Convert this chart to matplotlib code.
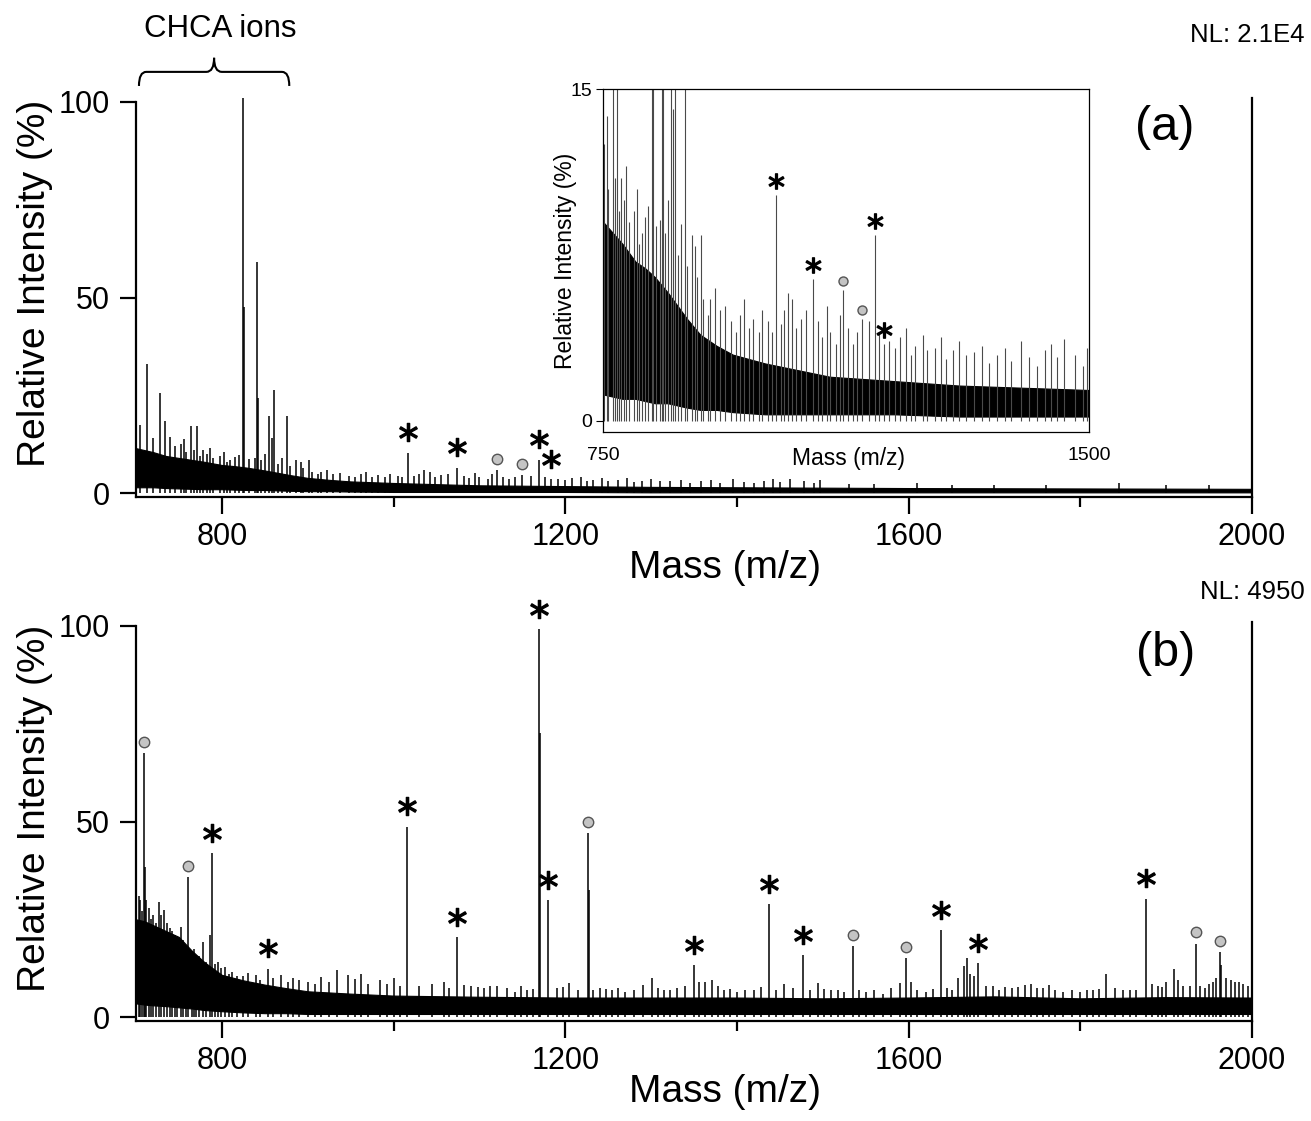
import matplotlib
matplotlib.use('Agg')
import matplotlib.pyplot as plt
from matplotlib.path import Path
from matplotlib.patches import PathPatch
from matplotlib.transforms import offset_copy

plt.rcParams['font.family'] = ['Liberation Sans', 'DejaVu Sans']

# ---- panel (a): noise band + peaks ----
a_noise_mz = [700, 710, 720, 735, 750, 765, 780, 800, 815, 830, 850, 865, 880, 900, 925,
              950, 1000, 1050, 1100, 1200, 1300, 1400, 1600, 1800, 2000]
a_noise_hi = [11.5, 11.0, 10.5, 9.5, 9.0, 8.5, 8.0, 7.2, 6.9, 6.5, 5.8, 5.2, 4.6, 3.9, 3.4,
              3.0, 2.6, 2.3, 2.0, 1.8, 1.6, 1.5, 1.3, 1.2, 1.1]
a_noise_lo = [1.5, 1.5, 1.5, 1.3, 1.2, 1.1, 1.0, 1.0, 0.9, 0.8, 0.8, 0.7, 0.6, 0.5, 0.5,
              0.4, 0.3, 0.3, 0.3, 0.3, 0.2, 0.2, 0.2, 0.2, 0.2]

a_peak_mz = [705, 713, 720, 727.5, 733.7, 739.5, 745, 752, 755.8, 758, 764.7, 768, 771.6,
             775, 778, 783, 786, 790, 797.7, 803, 806, 810, 815, 820, 825.2, 826.3, 832,
             838.4, 841, 842.3, 846, 850, 854.6, 858.5, 860.5, 865, 870, 876.4, 880,
             886.8, 892.6, 895, 901.5, 905, 912, 915, 922, 930, 938, 948, 955, 962, 968,
             975, 982, 990, 996, 1005, 1010, 1017, 1024, 1030, 1036, 1042, 1048, 1055,
             1063, 1074, 1082, 1088, 1095, 1100, 1110, 1115, 1121, 1128, 1135, 1142, 1150,
             1160, 1169, 1176, 1183, 1192, 1200, 1208, 1218, 1225, 1232, 1243, 1250, 1262,
             1272, 1280, 1290, 1300, 1310, 1322, 1335, 1345, 1358, 1370, 1380, 1395, 1408,
             1420, 1432, 1442, 1450, 1462, 1478, 1490, 1497, 1530, 1560, 1610, 1650, 1700,
             1760, 1845, 1900, 1950]
a_peak_int = [17.4, 33.0, 14.0, 25.6, 18.5, 14.4, 12.0, 12.5, 13.8, 10.5, 17.1, 11.0, 17.1,
              9.5, 11.0, 10.0, 11.5, 9.0, 9.5, 10.5, 8.0, 8.5, 9.2, 9.7, 101.0, 47.6, 8.8,
              9.1, 59.2, 24.3, 8.5, 10.0, 19.7, 14.1, 26.3, 7.5, 8.9, 19.7, 7.0,
              8.4, 7.9, 6.5, 8.4, 5.5, 4.8, 5.5, 6.0, 5.0, 5.2, 4.5, 4.0, 4.8, 5.5,
              4.2, 4.6, 4.0, 5.0, 4.5, 4.0, 10.2, 4.4, 5.0, 5.8, 5.5, 4.2, 4.6,
              5.0, 6.4, 4.5, 3.8, 5.2, 4.0, 3.5, 4.8, 5.9, 4.2, 3.5, 4.0, 4.6,
              4.5, 8.4, 4.0, 3.5, 3.6, 3.3, 3.8, 4.2, 3.0, 3.4, 3.9, 3.2, 3.3,
              3.8, 2.8, 3.2, 3.6, 3.0, 3.1, 3.4, 2.6, 3.0, 3.3, 2.7, 3.6, 2.9,
              2.5, 3.2, 3.5, 2.9, 3.7, 3.0, 2.5, 3.3, 2.4, 2.3, 2.5, 2.2, 2.2,
              2.1, 2.6, 2.0, 2.0]
a_star_mz = [1017, 1074, 1169, 1183]
a_circle_mz = [1121, 1150]

# ---- panel (b) ----
b_noise_mz = [700, 710, 720, 735, 750, 765, 780, 800, 825, 850, 875, 900, 950, 1000, 1100,
              1200, 1300, 1400, 1500, 1600, 1700, 1800, 1900, 2000]
b_noise_hi = [25.0, 24.5, 23.5, 22.0, 20.5, 17.0, 14.0, 10.8, 9.4, 8.3, 7.4, 6.6, 6.0, 5.5,
              5.2, 5.0, 5.0, 5.0, 4.8, 5.0, 5.3, 4.8, 5.1, 5.0]
b_noise_lo = [3.5, 3.2, 3.0, 2.8, 2.5, 2.2, 1.8, 1.5, 1.2, 1.0, 1.0, 0.8, 0.8, 0.8, 0.8,
              0.8, 0.8, 0.8, 0.8, 0.8, 0.8, 0.8, 0.8, 0.8]

b_peak_mz = [700.5, 703, 705, 707, 709.3, 710.5, 712, 715, 717, 720, 723, 726.4, 729,
             732.5, 736, 739.5, 742, 745, 748, 752, 755, 758, 760.5, 765, 768, 770, 773,
             778.3, 782, 786, 788.8, 792, 795, 799, 803.5, 808, 812, 818, 825, 830, 840,
             845, 854.3, 860, 869.4, 877, 882.9, 890, 900, 908, 915, 925, 934, 947, 955,
             962.4, 970, 984.5, 992, 1000, 1008, 1016.3, 1030, 1045, 1059.3, 1065, 1074,
             1082, 1090, 1098, 1105, 1112, 1120.5, 1132, 1141.9, 1148, 1155, 1162, 1169,
             1170.6, 1179.5, 1190, 1198, 1204, 1215, 1226, 1227.2, 1232, 1240, 1248, 1255,
             1262, 1270, 1280, 1290.7, 1301.6, 1308, 1315, 1322, 1330, 1340, 1350, 1356,
             1363, 1371, 1378, 1385, 1392, 1400, 1410, 1420, 1428, 1437.8, 1446, 1455,
             1465, 1477, 1485, 1494.2, 1502, 1510, 1518, 1525, 1534.9, 1542, 1550, 1560,
             1570, 1580, 1590, 1596.9, 1603, 1610, 1620, 1628, 1637.2, 1645, 1650, 1658,
             1664, 1667.8, 1672, 1676, 1680.6, 1690, 1698, 1705, 1712, 1720, 1728, 1735,
             1742, 1750, 1757, 1763.6, 1771, 1780, 1790, 1800, 1808, 1815, 1822, 1830,
             1840, 1850, 1858, 1865, 1876.7, 1884, 1890, 1895, 1900, 1909.3, 1914, 1920,
             1928, 1934.9, 1940, 1945, 1950, 1955, 1958, 1963.2, 1964.3, 1970, 1975, 1980,
             1985, 1990, 1995]
b_peak_int = [33.0, 31.0, 30.0, 27.0, 67.6, 38.4, 30.0, 28.0, 25.0, 26.0, 24.0, 29.5, 26.0,
              27.4, 24.0, 22.8, 22.0, 21.0, 20.0, 23.0, 19.7, 18.0, 35.9, 17.0, 17.5, 16.0, 15.5,
              19.3, 14.0, 21.0, 41.9, 13.5, 14.0, 12.5, 12.9, 11.0, 11.5, 10.5, 10.5, 11.2, 10.8,
              9.5, 12.4, 10.0, 10.7, 9.0, 9.9, 9.5, 9.0, 8.5, 10.2, 9.0, 12.0, 10.7, 9.8,
              11.1, 8.5, 9.4, 8.5, 9.9, 8.0, 48.7, 8.0, 8.5, 9.0, 7.5, 20.4,
              8.2, 8.0, 7.8, 7.5, 8.0, 7.9, 7.5, 6.5, 8.0, 7.0, 7.2, 99.2,
              72.6, 29.9, 7.5, 7.6, 8.7, 7.0, 47.0, 32.5, 7.0, 7.5, 7.2, 7.0,
              7.5, 6.5, 7.0, 8.2, 9.9, 7.4, 7.0, 6.8, 7.5, 8.0, 13.3, 9.0,
              9.0, 9.5, 8.0, 7.0, 7.2, 6.5, 7.0, 7.0, 7.6, 28.9, 7.0, 8.5,
              7.4, 15.9, 7.0, 8.7, 7.3, 7.0, 6.8, 6.5, 18.2, 7.0, 6.5, 7.0,
              6.0, 7.5, 8.7, 15.0, 9.0, 7.0, 6.5, 7.2, 22.3, 7.5, 7.0, 10.0,
              13.0, 15.0, 11.0, 10.5, 13.9, 8.0, 8.0, 7.0, 7.8, 7.5, 7.6, 8.2,
              8.5, 7.5, 7.5, 8.2, 7.0, 6.5, 6.8, 6.5, 6.8, 7.0, 7.2, 11.0,
              7.5, 7.0, 7.0, 7.0, 30.3, 8.5, 8.0, 7.8, 9.0, 12.2, 9.5, 8.0,
              8.0, 18.8, 8.0, 7.5, 8.5, 9.0, 10.0, 16.7, 13.3, 10.0, 9.5, 9.0,
              9.0, 8.5, 8.0]
b_star_mz = [788.8, 854.3, 1016.3, 1074, 1169, 1179.5, 1350, 1437.8, 1477, 1637.2, 1680.6, 1876.7]
b_circle_mz = [709.3, 760.5, 1226, 1534.9, 1596.9, 1934.9, 1963.2]

x_ticks = [800, 1200, 1600, 2000]
x_minor = [1000, 1400, 1800]
y_ticks = [0, 50, 100]

fig = plt.figure(figsize=(13.11, 11.21), dpi=100)
ax_a = fig.add_axes([0.1037, 0.5566, 0.8513, 0.3559])
ax_b = fig.add_axes([0.1037, 0.0892, 0.8513, 0.3559])
ax_in = fig.add_axes([0.46, 0.6146, 0.3707, 0.306])


def draw_spectrum(ax, nmz, nlo, nhi, pmz, pint, color='k', lw=1.1):
    ax.fill_between(nmz, nlo, nhi, color='k', lw=0.8)
    ax.vlines(pmz, 0, pint, color=color, lw=lw)


def mark(ax, mzs, pmz, pint, kind, dy, ms):
    heights = dict(zip(pmz, pint))
    ys = [heights[m] for m in mzs]
    tr = offset_copy(ax.transData, fig=fig, x=0, y=dy, units='points')
    if kind == 'star':
        ax.plot(mzs, ys, ls='none', marker='$*$', ms=ms, color='k',
                transform=tr, clip_on=False, zorder=5)
    else:
        ax.plot(mzs, ys, ls='none', marker='o', ms=ms, mfc='#c4c4c4', mec='#555555',
                mew=1.0, transform=tr, clip_on=False, zorder=5)


def style_main(ax, ylab_y):
    ax.set_xlim(700, 2000)
    ax.set_ylim(-1, 101)
    ax.spines['top'].set_visible(False)
    ax.spines['left'].set_bounds(-1, 100)
    for s in ax.spines.values():
        s.set_linewidth(1.6)
    ax.set_xticks(x_ticks)
    ax.set_xticks(x_minor, minor=True)
    ax.set_yticks(y_ticks)
    ax.tick_params(axis='x', which='major', length=12, width=1.6, labelsize=22, pad=6)
    ax.tick_params(axis='x', which='minor', length=7, width=1.6)
    ax.tick_params(axis='y', which='major', length=11.5, width=1.6, labelsize=22, pad=7)
    ax.set_xlabel('Mass (m/z)', fontsize=28)
    ax.set_ylabel('Relative Intensity (%)', fontsize=28)
    ax.xaxis.set_label_coords(0.528, -0.178)
    ax.xaxis.label.set_va('center')
    ax.yaxis.set_label_coords(-0.0905, ylab_y)
    ax.yaxis.label.set_va('center')


draw_spectrum(ax_a, a_noise_mz, a_noise_lo, a_noise_hi, a_peak_mz, a_peak_int)
style_main(ax_a, 0.536)
mark(ax_a, a_star_mz, a_peak_mz, a_peak_int, 'star', 15, 13)
mark(ax_a, a_circle_mz, a_peak_mz, a_peak_int, 'circle', 8, 7.5)

draw_spectrum(ax_b, b_noise_mz, b_noise_lo, b_noise_hi, b_peak_mz, b_peak_int)
style_main(ax_b, 0.534)
mark(ax_b, b_star_mz, b_peak_mz, b_peak_int, 'star', 14.5, 13)
mark(ax_b, b_circle_mz, b_peak_mz, b_peak_int, 'circle', 8, 7.5)

# inset: zoom of panel (a)
draw_spectrum(ax_in, a_noise_mz, a_noise_lo, a_noise_hi, a_peak_mz, a_peak_int,
              color='#4a4a4a', lw=0.8)
ax_in.set_xlim(750, 1500)
ax_in.set_ylim(-0.5, 15)
ax_in.set_xticks([750, 1500])
ax_in.set_yticks([0, 15])
ax_in.tick_params(axis='x', length=0, labelsize=14, pad=11)
ax_in.tick_params(axis='y', length=5, width=0.8, labelsize=14, pad=3)
for s in ax_in.spines.values():
    s.set_linewidth(0.9)
ax_in.set_xlabel('Mass (m/z)', fontsize=16.5)
ax_in.set_ylabel('Relative Intensity (%)', fontsize=16.5)
ax_in.xaxis.set_label_coords(0.506, -0.076)
ax_in.xaxis.label.set_va('center')
ax_in.yaxis.set_label_coords(-0.078, 0.5)
ax_in.yaxis.label.set_va('center')
mark(ax_in, a_star_mz, a_peak_mz, a_peak_int, 'star', 10, 11)
mark(ax_in, a_circle_mz, a_peak_mz, a_peak_int, 'circle', 6.5, 6.5)

# brace over the CHCA ion region
bx0, bx1, btip = 703.5, 878.6, 791
by0, by1, by2 = 104.1, 107.7, 111.3
verts = [(bx0, by0), (bx0, by1), (bx0 + 8.5, by1), (btip - 9, by1),
         (btip, by1), (btip, by2), (btip, by1), (btip + 9, by1),
         (bx1 - 8.5, by1), (bx1, by1), (bx1, by0)]
codes = [Path.MOVETO, Path.CURVE3, Path.CURVE3, Path.LINETO,
         Path.CURVE3, Path.CURVE3, Path.CURVE3, Path.CURVE3,
         Path.LINETO, Path.CURVE3, Path.CURVE3]
ax_a.add_patch(PathPatch(Path(verts, codes), fill=False, lw=1.5, color='k', clip_on=False))

fig.text(220 / 1311, 1 - 29 / 1121, 'CHCA ions', fontsize=22.5, ha='center', va='center')
fig.text(1305 / 1311, 1 - 35 / 1121, 'NL: 2.1E4', fontsize=18.5, ha='right', va='center')
fig.text(1305 / 1311, 1 - 592 / 1121, 'NL: 4950', fontsize=18.5, ha='right', va='center')
fig.text(1165 / 1311, 1 - 128 / 1121, '(a)', fontsize=35, ha='center', va='center')
fig.text(1166 / 1311, 1 - 654 / 1121, '(b)', fontsize=35, ha='center', va='center')

fig.savefig('out.png', dpi=100)
